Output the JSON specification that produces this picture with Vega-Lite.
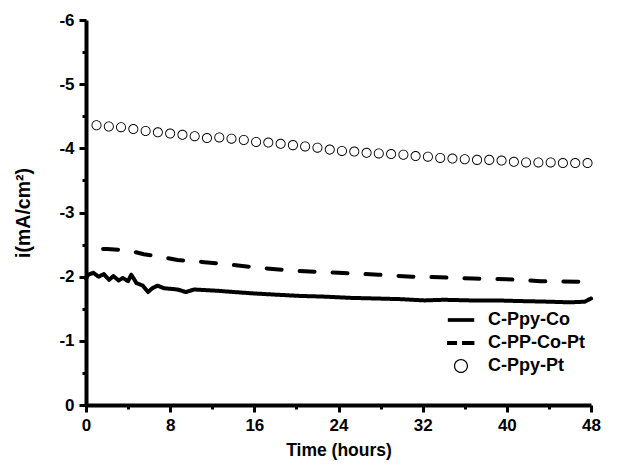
{
  "$schema": "https://vega.github.io/schema/vega-lite/v6.json",
  "width": 505,
  "height": 385,
  "autosize": "none",
  "padding": {"left": 86, "top": 20, "right": 28, "bottom": 62},
  "background": "white",
  "config": {
    "view": {"stroke": null},
    "font": "Liberation Sans",
    "axis": {
      "domainColor": "black", "domainWidth": 4, "tickColor": "black", "tickWidth": 3,
      "labelFont": "Liberation Sans", "labelFontWeight": "bold", "labelFontSize": 17, "labelColor": "black",
      "titleFont": "Liberation Sans", "titleFontWeight": "bold", "titleFontSize": 17.5, "titleColor": "black",
      "grid": false, "labelOverlap": false, "labelFlush": false
    }
  },
  "datasets": {
    "lines": [
      {"series": "C-Ppy-Co", "t": 0.0, "v": -1.97},
      {"series": "C-Ppy-Co", "t": 0.2, "v": -2.03},
      {"series": "C-Ppy-Co", "t": 0.7, "v": -2.06},
      {"series": "C-Ppy-Co", "t": 1.2, "v": -2.0},
      {"series": "C-Ppy-Co", "t": 1.7, "v": -2.04},
      {"series": "C-Ppy-Co", "t": 2.2, "v": -1.95},
      {"series": "C-Ppy-Co", "t": 2.6, "v": -2.01},
      {"series": "C-Ppy-Co", "t": 3.1, "v": -1.94},
      {"series": "C-Ppy-Co", "t": 3.5, "v": -1.98},
      {"series": "C-Ppy-Co", "t": 4.0, "v": -1.93},
      {"series": "C-Ppy-Co", "t": 4.3, "v": -2.03},
      {"series": "C-Ppy-Co", "t": 4.8, "v": -1.9},
      {"series": "C-Ppy-Co", "t": 5.4, "v": -1.86},
      {"series": "C-Ppy-Co", "t": 5.9, "v": -1.76},
      {"series": "C-Ppy-Co", "t": 6.3, "v": -1.82},
      {"series": "C-Ppy-Co", "t": 6.8, "v": -1.86},
      {"series": "C-Ppy-Co", "t": 7.4, "v": -1.82},
      {"series": "C-Ppy-Co", "t": 8.7, "v": -1.8},
      {"series": "C-Ppy-Co", "t": 9.5, "v": -1.76},
      {"series": "C-Ppy-Co", "t": 10.3, "v": -1.8},
      {"series": "C-Ppy-Co", "t": 12.5, "v": -1.78},
      {"series": "C-Ppy-Co", "t": 14.1, "v": -1.76},
      {"series": "C-Ppy-Co", "t": 15.8, "v": -1.74},
      {"series": "C-Ppy-Co", "t": 18.0, "v": -1.72},
      {"series": "C-Ppy-Co", "t": 20.3, "v": -1.7},
      {"series": "C-Ppy-Co", "t": 22.5, "v": -1.69},
      {"series": "C-Ppy-Co", "t": 25.1, "v": -1.67},
      {"series": "C-Ppy-Co", "t": 27.5, "v": -1.66},
      {"series": "C-Ppy-Co", "t": 29.8, "v": -1.65},
      {"series": "C-Ppy-Co", "t": 32.2, "v": -1.63},
      {"series": "C-Ppy-Co", "t": 34.0, "v": -1.64},
      {"series": "C-Ppy-Co", "t": 36.5, "v": -1.63},
      {"series": "C-Ppy-Co", "t": 39.0, "v": -1.63},
      {"series": "C-Ppy-Co", "t": 41.2, "v": -1.62},
      {"series": "C-Ppy-Co", "t": 44.0, "v": -1.61},
      {"series": "C-Ppy-Co", "t": 46.0, "v": -1.6},
      {"series": "C-Ppy-Co", "t": 47.4, "v": -1.61},
      {"series": "C-Ppy-Co", "t": 48.0, "v": -1.66},
      {"series": "C-PP-Co-Pt", "t": 0.2, "v": -2.44},
      {"series": "C-PP-Co-Pt", "t": 2.0, "v": -2.43},
      {"series": "C-PP-Co-Pt", "t": 4.0, "v": -2.41},
      {"series": "C-PP-Co-Pt", "t": 5.5, "v": -2.35},
      {"series": "C-PP-Co-Pt", "t": 7.1, "v": -2.31},
      {"series": "C-PP-Co-Pt", "t": 8.7, "v": -2.26},
      {"series": "C-PP-Co-Pt", "t": 11.0, "v": -2.23},
      {"series": "C-PP-Co-Pt", "t": 13.5, "v": -2.19},
      {"series": "C-PP-Co-Pt", "t": 17.0, "v": -2.13},
      {"series": "C-PP-Co-Pt", "t": 20.0, "v": -2.09},
      {"series": "C-PP-Co-Pt", "t": 24.0, "v": -2.06},
      {"series": "C-PP-Co-Pt", "t": 27.8, "v": -2.03},
      {"series": "C-PP-Co-Pt", "t": 31.0, "v": -2.0},
      {"series": "C-PP-Co-Pt", "t": 33.6, "v": -1.99},
      {"series": "C-PP-Co-Pt", "t": 36.8, "v": -1.97},
      {"series": "C-PP-Co-Pt", "t": 40.0, "v": -1.96},
      {"series": "C-PP-Co-Pt", "t": 43.2, "v": -1.93},
      {"series": "C-PP-Co-Pt", "t": 48.0, "v": -1.92}
    ],
    "circles": [
      {"series": "C-Ppy-Pt", "t": 1.0, "v": -4.36},
      {"series": "C-Ppy-Pt", "t": 2.17, "v": -4.34},
      {"series": "C-Ppy-Pt", "t": 3.33, "v": -4.33},
      {"series": "C-Ppy-Pt", "t": 4.5, "v": -4.3},
      {"series": "C-Ppy-Pt", "t": 5.67, "v": -4.27},
      {"series": "C-Ppy-Pt", "t": 6.83, "v": -4.25},
      {"series": "C-Ppy-Pt", "t": 8.0, "v": -4.23},
      {"series": "C-Ppy-Pt", "t": 9.17, "v": -4.21},
      {"series": "C-Ppy-Pt", "t": 10.33, "v": -4.19},
      {"series": "C-Ppy-Pt", "t": 11.5, "v": -4.16},
      {"series": "C-Ppy-Pt", "t": 12.67, "v": -4.17},
      {"series": "C-Ppy-Pt", "t": 13.83, "v": -4.15},
      {"series": "C-Ppy-Pt", "t": 15.0, "v": -4.13},
      {"series": "C-Ppy-Pt", "t": 16.17, "v": -4.1},
      {"series": "C-Ppy-Pt", "t": 17.33, "v": -4.09},
      {"series": "C-Ppy-Pt", "t": 18.5, "v": -4.07},
      {"series": "C-Ppy-Pt", "t": 19.67, "v": -4.05},
      {"series": "C-Ppy-Pt", "t": 20.83, "v": -4.03},
      {"series": "C-Ppy-Pt", "t": 22.0, "v": -4.01},
      {"series": "C-Ppy-Pt", "t": 23.17, "v": -3.98},
      {"series": "C-Ppy-Pt", "t": 24.33, "v": -3.96},
      {"series": "C-Ppy-Pt", "t": 25.5, "v": -3.95},
      {"series": "C-Ppy-Pt", "t": 26.67, "v": -3.93},
      {"series": "C-Ppy-Pt", "t": 27.83, "v": -3.92},
      {"series": "C-Ppy-Pt", "t": 29.0, "v": -3.91},
      {"series": "C-Ppy-Pt", "t": 30.17, "v": -3.9},
      {"series": "C-Ppy-Pt", "t": 31.33, "v": -3.88},
      {"series": "C-Ppy-Pt", "t": 32.5, "v": -3.87},
      {"series": "C-Ppy-Pt", "t": 33.67, "v": -3.85},
      {"series": "C-Ppy-Pt", "t": 34.83, "v": -3.84},
      {"series": "C-Ppy-Pt", "t": 36.0, "v": -3.83},
      {"series": "C-Ppy-Pt", "t": 37.17, "v": -3.82},
      {"series": "C-Ppy-Pt", "t": 38.33, "v": -3.82},
      {"series": "C-Ppy-Pt", "t": 39.5, "v": -3.81},
      {"series": "C-Ppy-Pt", "t": 40.67, "v": -3.79},
      {"series": "C-Ppy-Pt", "t": 41.83, "v": -3.78},
      {"series": "C-Ppy-Pt", "t": 43.0, "v": -3.78},
      {"series": "C-Ppy-Pt", "t": 44.17, "v": -3.78},
      {"series": "C-Ppy-Pt", "t": 45.33, "v": -3.77},
      {"series": "C-Ppy-Pt", "t": 46.5, "v": -3.77},
      {"series": "C-Ppy-Pt", "t": 47.67, "v": -3.77}
    ]
  },
  "encoding": {
    "x": {
      "field": "t", "type": "quantitative",
      "scale": {"domain": [0, 48], "nice": false, "zero": false},
      "axis": {
        "title": "Time (hours)",
        "values": [0, 4, 8, 12, 16, 20, 24, 28, 32, 36, 40, 44, 48],
        "labelExpr": "datum.value % 8 === 0 ? '' + datum.value : ''",
        "tickSize": {"condition": {"test": "datum.value % 8 !== 0", "value": 4}, "value": 7},
        "labelPadding": 5,
        "titlePadding": 8
      }
    },
    "y": {
      "field": "v", "type": "quantitative",
      "scale": {"domain": [-6, 0], "reverse": true, "nice": false, "zero": false},
      "axis": {
        "title": "i(mA/cm²)",
        "titleFontSize": 19.5,
        "values": [-6, -5.5, -5, -4.5, -4, -3.5, -3, -2.5, -2, -1.5, -1, -0.5, 0],
        "labelExpr": "datum.value % 1 === 0 ? '' + datum.value : ''",
        "tickSize": {"condition": {"test": "datum.value % 1 !== 0", "value": 4}, "value": 7},
        "labelPadding": 5,
        "titlePadding": 25
      }
    }
  },
  "layer": [
    {
      "data": {"name": "lines"},
      "mark": {"type": "line", "color": "black", "strokeWidth": 4, "strokeCap": "round", "strokeJoin": "round", "strokeDashOffset": 18},
      "encoding": {
        "strokeDash": {
          "field": "series", "type": "nominal",
          "scale": {"domain": ["C-Ppy-Co", "C-PP-Co-Pt"], "range": [[1, 0], [15, 18]]},
          "legend": null
        }
      }
    },
    {
      "data": {"name": "circles"},
      "mark": {"type": "point", "filled": true, "color": "black", "strokeWidth": 0, "size": 245, "opacity": 1},
      "encoding": {
        "shape": {
          "field": "series", "type": "nominal",
          "scale": {
            "domain": ["C-Ppy-Co", "C-PP-Co-Pt", "C-Ppy-Pt"],
            "range": [
              "M-1.2,-0.17L1.2,-0.17L1.2,0.17L-1.2,0.17Z",
              "M-1.27,-0.19L-0.36,-0.19L-0.36,0.19L-1.27,0.19ZM0.09,-0.19L1.22,-0.19L1.22,0.19L0.09,0.19Z",
              "M0.64,0A0.64,0.64 0 1,0 -0.64,0A0.64,0.64 0 1,0 0.64,0ZM0.53,0A0.53,0.53 0 1,1 -0.53,0A0.53,0.53 0 1,1 0.53,0Z"
            ]
          },
          "legend": {
            "title": null,
            "orient": "none",
            "legendX": 364,
            "legendY": 289,
            "padding": 0,
            "symbolSize": 484,
            "symbolStrokeWidth": 0,
            "symbolFillColor": "black",
            "symbolOpacity": 1,
            "rowPadding": 3,
            "labelOffset": 16,
            "labelFont": "Liberation Sans",
            "labelFontWeight": "bold",
            "labelFontSize": 18,
            "labelColor": "black",
            "labelLimit": 200
          }
        }
      }
    }
  ]
}
